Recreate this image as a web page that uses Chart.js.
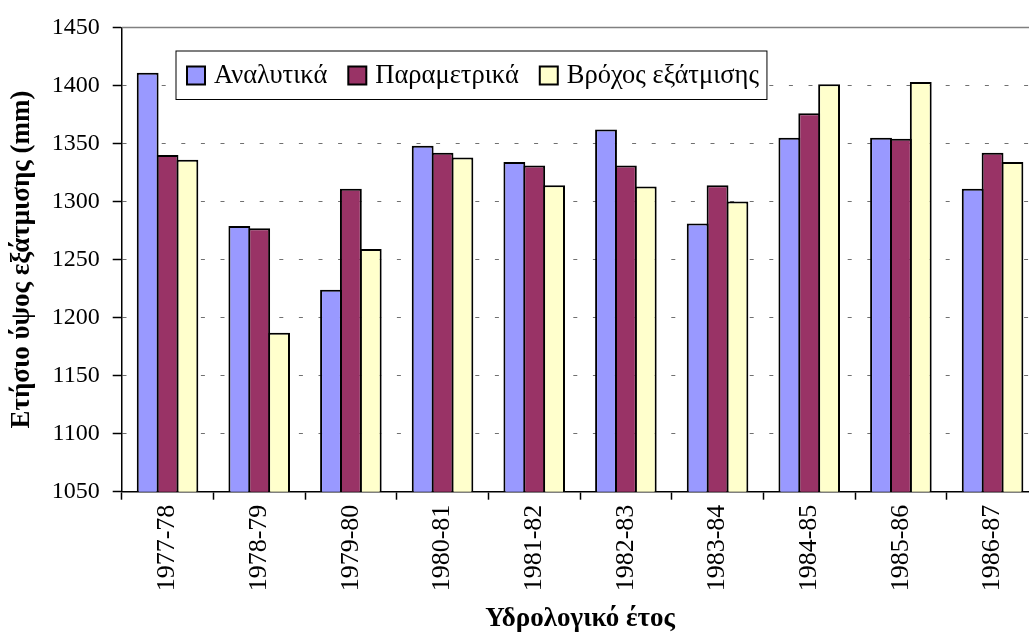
<!DOCTYPE html>
<html>
<head>
<meta charset="utf-8">
<script src="https://cdn.jsdelivr.net/npm/chart.js@4/dist/chart.umd.min.js"></script>
<style>
  html, body { margin: 0; padding: 0; background: #fff; overflow: hidden; }
  #wrap { position: absolute; left: 0; top: 0; width: 1040px; height: 638px; }
</style>
</head>
<body>
<div id="wrap"><canvas id="c"></canvas></div>
<script>
// Ετήσιο ύψος εξάτμισης ανά υδρολογικό έτος
const CATEGORIES = ['1977-78', '1978-79', '1979-80', '1980-81', '1981-82',
  '1982-83', '1983-84', '1984-85', '1985-86', '1986-87'];
const SERIES_NAMES = ['Αναλυτικά', 'Παραμετρικά', 'Βρόχος εξάτμισης'];
const ANALYTIKA = [1411, 1279, 1224, 1348, 1334, 1362, 1281, 1355, 1355, 1311];
const PARAMETRIKA = [1340, 1277, 1311, 1342, 1331, 1331, 1314, 1376, 1354, 1342];
const EXATMISI = [1336, 1187, 1259, 1338, 1314, 1313, 1300, 1401, 1403, 1334];
const Y_MIN = 1050, Y_MAX = 1450, Y_STEP = 50;

const COLORS = ['#9999FF', '#993366', '#FFFFCC'];
const SERIF = "'Liberation Serif', 'Times New Roman', serif";

// legend inside the plot: first swatch left edge, vertical centre
const LEG_X = 187, LEG_CY = 75.5, SWATCH = 18, TEXT_GAP = 9, ITEM_GAP = 21, LEG_FONT = 26.5;

// draws the grey plot frame and the boxed legend (over the grid, under the bars)
const frameLegend = {
  id: 'frameLegend',
  beforeDatasetsDraw(chart) {
    const { ctx, chartArea: a } = chart;
    ctx.save();
    ctx.strokeStyle = '#808080';
    ctx.lineWidth = 1.5;
    ctx.beginPath();
    ctx.moveTo(a.left, a.top);
    ctx.lineTo(a.right, a.top);
    ctx.lineTo(a.right, a.bottom);
    ctx.stroke();

    ctx.font = LEG_FONT + 'px ' + SERIF;
    const items = chart.data.datasets.map((ds) => ({
      text: ds.label, color: ds.backgroundColor, w: ctx.measureText(ds.label).width,
    }));
    let total = 0;
    items.forEach((it, i) => { total += SWATCH + TEXT_GAP + it.w + (i ? ITEM_GAP : 0); });
    const x0 = LEG_X - 11, x1 = LEG_X + total + 8;
    const y0 = LEG_CY - 24.5, y1 = LEG_CY + 24;
    ctx.fillStyle = '#fff';
    ctx.fillRect(x0, y0, x1 - x0, y1 - y0);
    ctx.strokeStyle = '#000';
    ctx.lineWidth = 1;
    ctx.strokeRect(x0, y0, x1 - x0, y1 - y0);

    let x = LEG_X;
    ctx.textBaseline = 'middle';
    ctx.textAlign = 'left';
    items.forEach((it) => {
      ctx.fillStyle = it.color;
      ctx.fillRect(x, LEG_CY - SWATCH / 2, SWATCH, SWATCH);
      ctx.lineWidth = 2;
      ctx.strokeStyle = '#000';
      ctx.strokeRect(x, LEG_CY - SWATCH / 2, SWATCH, SWATCH);
      ctx.fillStyle = '#000';
      ctx.fillText(it.text, x + SWATCH + TEXT_GAP, LEG_CY + 1);
      x += SWATCH + TEXT_GAP + it.w + ITEM_GAP;
    });
    ctx.restore();
  }
};

const datasets = [ANALYTIKA, PARAMETRIKA, EXATMISI].map((d, i) => ({
  label: SERIES_NAMES[i],
  data: d,
  backgroundColor: COLORS[i],
  borderColor: '#000',
  borderWidth: 2,
  barPercentage: 1.1,
  categoryPercentage: 0.65,
}));

new Chart(document.getElementById('c'), {
  type: 'bar',
  data: { labels: CATEGORIES, datasets },
  plugins: [frameLegend],
  options: {
    responsive: true,
    maintainAspectRatio: false,
    animation: false,
    layout: { padding: { top: 20.5, right: 1.6, bottom: 0, left: 0 } },
    plugins: {
      tooltip: { enabled: false },
      legend: { display: false },
    },
    scales: {
      x: {
        grid: { drawOnChartArea: false, tickLength: 8, tickColor: '#000', tickWidth: 1.5 },
        border: { color: '#000', width: 1.5 },
        ticks: {
          color: '#000', font: { family: SERIF, size: 26 },
          minRotation: 90, maxRotation: 90, autoSkip: false, padding: 5,
        },
        title: {
          display: true, text: 'Υδρολογικό έτος', color: '#000',
          font: { family: SERIF, size: 27, weight: 'bold' },
          padding: { top: 0, bottom: 3 },
        },
        afterFit: (s) => { s.height = 146.3; },
      },
      y: {
        min: Y_MIN, max: Y_MAX,
        grid: { color: '#707070', lineWidth: 1, tickLength: 9, tickColor: '#000', tickWidth: 1.5 },
        border: { color: '#000', width: 1.5, dash: [4, 15.6] },
        ticks: {
          stepSize: Y_STEP, color: '#000', font: { family: SERIF, size: 24 }, padding: 13,
          callback: (v) => String(v),
        },
        title: {
          display: true, text: 'Ετήσιο ύψος εξάτμισης (mm)', color: '#000',
          font: { family: SERIF, size: 27, weight: 'bold' },
          padding: { top: 6, bottom: 0 },
        },
        afterFit: (s) => { s.width = 121.7; },
      },
    },
  },
});
</script>
</body>
</html>
